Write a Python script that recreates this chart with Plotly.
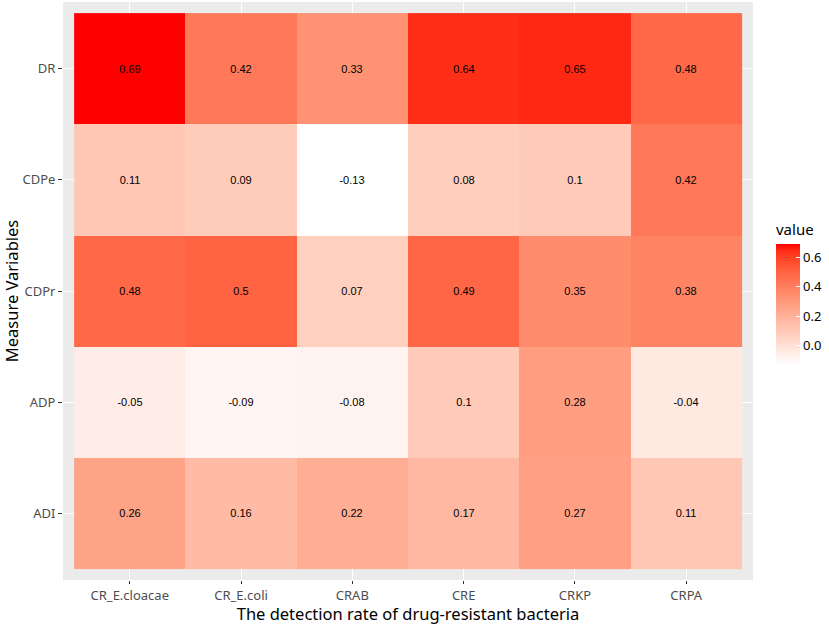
import numpy as np
import plotly.graph_objects as go

# dati
bacteria = ["CR_E.cloacae", "CR_E.coli", "CRAB", "CRE", "CRKP", "CRPA"]
variables = ["ADI", "ADP", "CDPr", "CDPe", "DR"]  # dal basso verso l'alto

adi = [0.26, 0.16, 0.22, 0.17, 0.27, 0.11]
adp = [-0.05, -0.09, -0.08, 0.1, 0.28, -0.04]
cdpr = [0.48, 0.5, 0.07, 0.49, 0.35, 0.38]
cdpe = [0.11, 0.09, -0.13, 0.08, 0.1, 0.42]
dr = [0.69, 0.42, 0.33, 0.64, 0.65, 0.48]

z = [adi, adp, cdpr, cdpe, dr]
labels = [[f"{v:g}" for v in row] for row in z]

W, H = 829, 625
L, R, T, B = 63, 76, 2, 45  # area del pannello: x 63-753, y 2-580


def lab_scale(c0, c1, n=21):
    """Gradiente bianco -> rosso interpolato in CIELAB, come scale_fill_gradient di ggplot2."""
    def to_lab(rgb):
        c = np.array(rgb) / 255.0
        c = np.where(c > 0.04045, ((c + 0.055) / 1.055) ** 2.4, c / 12.92)
        m = np.array([[0.4124, 0.3576, 0.1805],
                      [0.2126, 0.7152, 0.0722],
                      [0.0193, 0.1192, 0.9505]])
        xyz = m @ c / np.array([0.95047, 1.0, 1.08883])
        f = np.where(xyz > 0.008856, np.cbrt(xyz), 7.787 * xyz + 16 / 116)
        return np.array([116 * f[1] - 16, 500 * (f[0] - f[1]), 200 * (f[1] - f[2])])

    def to_rgb(lab):
        fy = (lab[0] + 16) / 116
        fx = fy + lab[1] / 500
        fz = fy - lab[2] / 200
        f = np.array([fx, fy, fz])
        xyz = np.where(f ** 3 > 0.008856, f ** 3, (f - 16 / 116) / 7.787)
        xyz = xyz * np.array([0.95047, 1.0, 1.08883])
        m = np.array([[3.2406, -1.5372, -0.4986],
                      [-0.9689, 1.8758, 0.0415],
                      [0.0557, -0.2040, 1.0570]])
        c = m @ xyz
        c = np.where(c > 0.0031308, 1.055 * np.clip(c, 0, None) ** (1 / 2.4) - 0.055, 12.92 * c)
        c = np.clip(c, 0, 1) * 255
        return "rgb(%d,%d,%d)" % tuple(np.round(c).astype(int))

    a, b = to_lab(c0), to_lab(c1)
    return [[t, to_rgb(a + (b - a) * t)] for t in np.linspace(0, 1, n)]


pw, ph = W - L - R, H - T - B
bar_left, bar_top, bar_len = 776, 244, 121

fig = go.Figure(go.Heatmap(
    z=z,
    x=bacteria,
    y=variables,
    text=labels,
    texttemplate="%{text}",
    textfont=dict(family="Liberation Sans, Arial", size=11, color="black"),
    colorscale=lab_scale((255, 255, 255), (255, 0, 0)),
    zmin=-0.13,
    zmax=0.69,
    colorbar=dict(
        thickness=24,
        lenmode="pixels",
        len=bar_len,
        x=(bar_left - L) / pw,
        xanchor="left",
        xpad=0,
        y=(H - B - (bar_top + bar_len / 2)) / ph,
        yanchor="middle",
        ypad=0,
        outlinewidth=0,
        tickvals=[0, 0.2, 0.4, 0.6],
        ticktext=["0.0", "0.2", "0.4", "0.6"],
        ticks="inside",
        ticklen=4,
        tickcolor="white",
        tickfont=dict(family="Noto Sans", size=13, color="black"),
    ),
    hovertemplate="%{x}<br>%{y}: %{z}<extra></extra>",
))

# titolo della legenda
fig.add_annotation(
    text="value", x=(bar_left - L) / pw, xref="paper", xanchor="left", xshift=-2,
    y=(H - B - 229) / ph, yref="paper", yanchor="middle",
    showarrow=False, font=dict(family="Noto Sans", size=15, color="black"),
)

axis_font = dict(family="Noto Sans", size=13, color="#4D4D4D")
fig.update_xaxes(
    title=dict(text="The detection rate of drug-resistant bacteria",
               font=dict(family="Noto Sans", size=16.5, color="black"), standoff=0),
    range=[-0.6, 5.6],
    showgrid=True, gridcolor="white", gridwidth=1,
    ticks="outside", ticklen=3, tickcolor="#333333",
    tickfont=axis_font, zeroline=False,
)
fig.update_yaxes(
    title=dict(text="Measure Variables",
               font=dict(family="Noto Sans", size=16.5, color="black"), standoff=0),
    range=[-0.6, 4.6],
    showgrid=True, gridcolor="white", gridwidth=1,
    ticks="outside", ticklen=4, tickcolor="#333333",
    tickfont=axis_font, zeroline=False,
)
fig.update_layout(
    width=W,
    height=H,
    margin=dict(l=L, r=R, t=T, b=B, autoexpand=False),
    plot_bgcolor="#EBEBEB",
    paper_bgcolor="white",
)

# niente margine del body, così il grafico parte dall'angolo della finestra
fig.write_html("out.html", config={"displayModeBar": False},
               post_script="document.body.style.margin='0px';")
